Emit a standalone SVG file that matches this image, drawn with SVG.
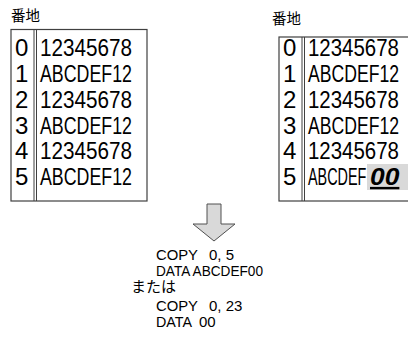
<svg xmlns="http://www.w3.org/2000/svg" width="408" height="338" viewBox="0 0 408 338">
<style>
.box{fill:#fff;stroke:#404040;stroke-width:1.2}
.div{stroke:#404040;stroke-width:1}
.lbl{font-family:"Noto Sans CJK JP","Noto Sans CJK SC",sans-serif;font-size:14.5px;fill:#000}
.cell{font-family:"Liberation Sans",Arial,sans-serif;font-size:24px;fill:#000}
.cmd{font-family:"Liberation Sans",Arial,sans-serif;font-size:15px;fill:#000}
</style>
<rect x="0" y="0" width="408" height="338" fill="#fff"/>
<g id="memory-before">
<text class="lbl" x="11" y="21">番地</text>
<rect class="box" x="11" y="29.5" width="136" height="171.5"/>
<line class="div" x1="34" y1="29.5" x2="34" y2="201"/>
<line class="div" x1="36.5" y1="29.5" x2="36.5" y2="201"/>
<text class="cell" x="15" y="56">0</text>
<text class="cell" x="15" y="82">1</text>
<text class="cell" x="15" y="108">2</text>
<text class="cell" x="15" y="133.5">3</text>
<text class="cell" x="15" y="159">4</text>
<text class="cell" x="15" y="185">5</text>
<text class="cell" transform="translate(40,56) scale(0.862,1)">12345678</text>
<text class="cell" transform="translate(40,82) scale(0.742,1)">ABCDEF12</text>
<text class="cell" transform="translate(40,108) scale(0.862,1)">12345678</text>
<text class="cell" transform="translate(40,133.5) scale(0.742,1)">ABCDEF12</text>
<text class="cell" transform="translate(40,159) scale(0.862,1)">12345678</text>
<text class="cell" transform="translate(40,185) scale(0.742,1)">ABCDEF12</text>
</g>
<g id="memory-after">
<text class="lbl" x="272" y="24">番地</text>
<rect class="box" x="279" y="37" width="130" height="164"/>
<rect x="367" y="164" width="41" height="26" fill="#d9d9d9"/>
<line class="div" x1="302" y1="37" x2="302" y2="201"/>
<line class="div" x1="304.5" y1="37" x2="304.5" y2="201"/>
<text class="cell" x="283" y="56">0</text>
<text class="cell" x="283" y="82">1</text>
<text class="cell" x="283" y="108">2</text>
<text class="cell" x="283" y="133.5">3</text>
<text class="cell" x="283" y="159">4</text>
<text class="cell" x="283" y="185">5</text>
<text class="cell" transform="translate(308,56) scale(0.852,1)">12345678</text>
<text class="cell" transform="translate(308,82) scale(0.734,1)">ABCDEF12</text>
<text class="cell" transform="translate(308,108) scale(0.852,1)">12345678</text>
<text class="cell" transform="translate(308,133.5) scale(0.734,1)">ABCDEF12</text>
<text class="cell" transform="translate(308,159) scale(0.852,1)">12345678</text>
<text class="cell" transform="translate(308,185) scale(0.6,1)">ABCDEF</text>
<text class="cell" transform="translate(370,185) scale(1.1,1)" font-weight="bold" font-style="italic" text-decoration="underline">00</text>
</g>
<g id="connectors">
<path d="M207,204 H221 V224 H235 L214,241 L193,224 H207 Z" fill="#d9d9d9" stroke="#505050" stroke-width="1"/>
</g>
<g id="commands">
<text class="cmd" x="156" y="260" textLength="42" lengthAdjust="spacingAndGlyphs">COPY</text>
<text class="cmd" x="209" y="260">0, 5</text>
<text class="cmd" x="156" y="276" textLength="107" lengthAdjust="spacingAndGlyphs">DATA ABCDEF00</text>
<text class="lbl" x="131" y="292" style="font-size:15px">または</text>
<text class="cmd" x="156" y="311" textLength="42" lengthAdjust="spacingAndGlyphs">COPY</text>
<text class="cmd" x="209" y="311">0, 23</text>
<text class="cmd" x="156" y="327" textLength="36" lengthAdjust="spacingAndGlyphs">DATA</text>
<text class="cmd" x="199" y="327">00</text>
</g>
</svg>
